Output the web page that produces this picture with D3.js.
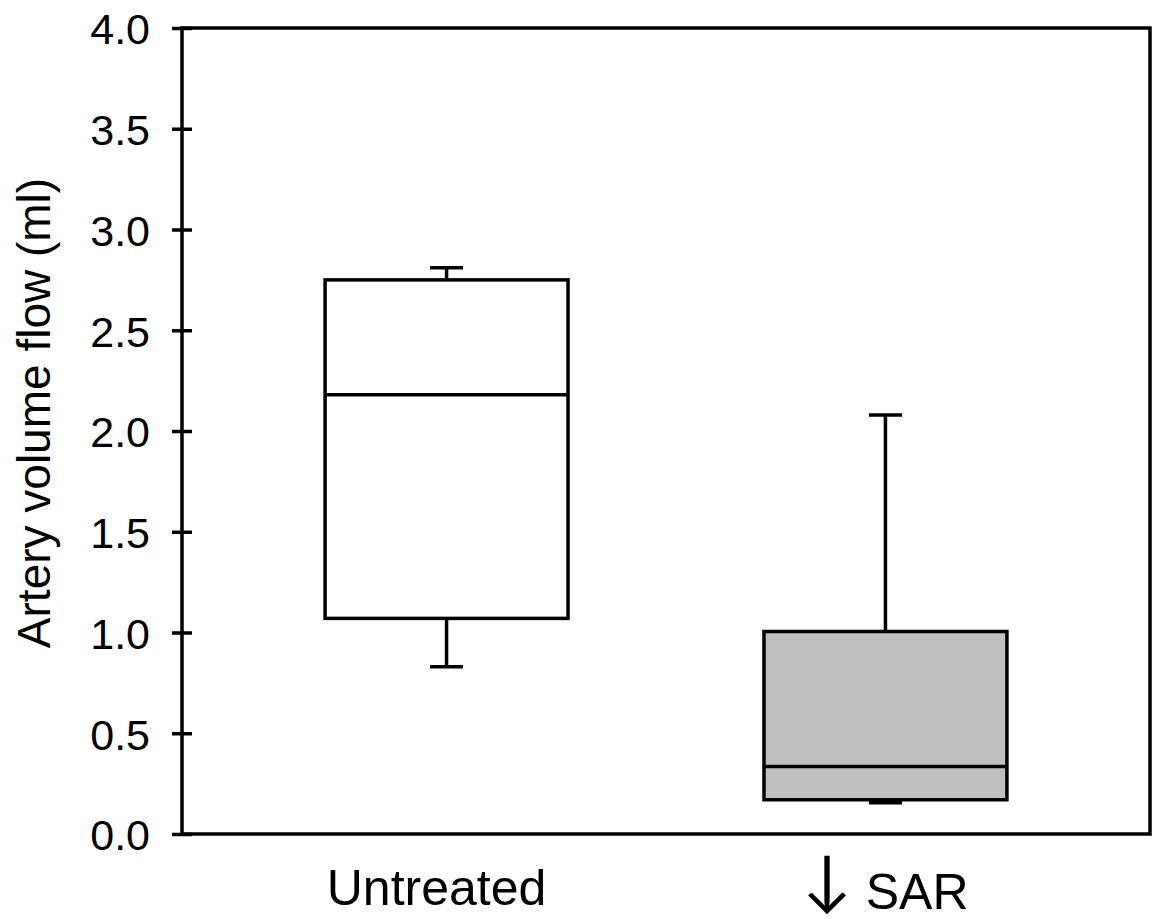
<!DOCTYPE html>
<html lang="en">
<head>
<meta charset="UTF-8">
<title>Artery volume flow box plot</title>
<script src="https://d3js.org/d3.v7.min.js"></script>
<style>
  body { margin: 0; background: #fff; }
  svg { display: block; font-family: 'Liberation Sans', Arial, sans-serif; }
</style>
</head>
<body>
<svg id="chart" width="1155" height="921"></svg>
<script>
// data
var categories = ["Untreated", "\u2193 SAR"];
var whiskerLow  = [0.83, 0.155];
var q1          = [1.07, 0.17];
var median      = [2.18, 0.335];
var q3          = [2.75, 1.005];
var whiskerHigh = [2.81, 2.08];
var yTicks = [0, 0.5, 1, 1.5, 2, 2.5, 3, 3.5, 4];

var boxFill = ["#ffffff", "#c0c0c0"];

var svg = d3.select("#chart");
var mLeft = 182, mRight = 1150, mTop = 28, mBottom = 834;
var lw = 3.5;

var y = d3.scaleLinear().domain([0, 4]).range([mBottom, mTop]);
var x = d3.scaleBand().domain(categories).range([mLeft, mRight])
  .paddingInner(0.4465).paddingOuter(0.326);

var boxes = categories.map(function(c, i) {
  return { cat: c, lo: whiskerLow[i], q1: q1[i], med: median[i], q3: q3[i], hi: whiskerHigh[i], fill: boxFill[i] };
});

// y axis, ticks cross the frame
var yAxis = d3.axisLeft(y).tickValues(yTicks).tickSize(10).tickPadding(22)
  .tickFormat(d3.format(".1f"));
var gy = svg.append("g").attr("transform", "translate(" + mLeft + ",0)").call(yAxis);
gy.select(".domain").remove();
gy.selectAll(".tick line").attr("x1", 10).attr("stroke", "#000").attr("stroke-width", lw);
gy.selectAll(".tick text").attr("font-size", 43).attr("dy", "0.37em")
  .attr("fill", "#000").attr("font-family", "'Liberation Sans', Arial, sans-serif");

// whiskers + caps
var capW = 33;
var g = svg.selectAll("g.box").data(boxes).enter().append("g").attr("class", "box");
g.each(function(d) {
  var el = d3.select(this);
  var cx = x(d.cat) + x.bandwidth() / 2;
  el.append("line").attr("x1", cx).attr("x2", cx).attr("y1", y(d.q3)).attr("y2", y(d.hi))
    .attr("stroke", "#000").attr("stroke-width", lw);
  el.append("line").attr("x1", cx - capW / 2).attr("x2", cx + capW / 2).attr("y1", y(d.hi)).attr("y2", y(d.hi))
    .attr("stroke", "#000").attr("stroke-width", lw);
  el.append("line").attr("x1", cx).attr("x2", cx).attr("y1", y(d.q1)).attr("y2", y(d.lo))
    .attr("stroke", "#000").attr("stroke-width", lw);
  el.append("line").attr("x1", cx - capW / 2).attr("x2", cx + capW / 2).attr("y1", y(d.lo)).attr("y2", y(d.lo))
    .attr("stroke", "#000").attr("stroke-width", lw);
  el.append("rect").attr("x", x(d.cat)).attr("width", x.bandwidth())
    .attr("y", y(d.q3)).attr("height", y(d.q1) - y(d.q3))
    .attr("fill", d.fill).attr("stroke", "#000").attr("stroke-width", lw);
  el.append("line").attr("x1", x(d.cat)).attr("x2", x(d.cat) + x.bandwidth())
    .attr("y1", y(d.med)).attr("y2", y(d.med))
    .attr("stroke", "#000").attr("stroke-width", lw);
});

// frame
svg.append("rect").attr("x", mLeft).attr("y", mTop).attr("width", mRight - mLeft).attr("height", mBottom - mTop)
  .attr("fill", "none").attr("stroke", "#000").attr("stroke-width", lw);

// category labels (arrow glyph from Lato, which has the open, tall arrow)
var catText = svg.selectAll("text.cat").data(categories).enter().append("text").attr("class", "cat")
  .attr("x", function(d) { return x(d) + x.bandwidth() / 2; })
  .attr("y", function(d, i) { return i === 0 ? 905 : 909; })
  .attr("text-anchor", "middle").attr("font-size", 50).attr("fill", "#000");
catText.each(function(d) {
  var t = d3.select(this);
  if (d.charAt(0) === "\u2193") {
    t.append("tspan").attr("font-family", "Lato").attr("font-size", 66).attr("dy", -6).text("\u2193");
    t.append("tspan").attr("dy", 6).text(d.slice(1));
  } else {
    t.text(d);
  }
});
catText.filter(function(d, i) { return i === 0; }).attr("dx", -10);

// y label
svg.append("text").attr("transform", "translate(50," + ((mTop + mBottom) / 2 - 18) + ") rotate(-90)")
  .attr("text-anchor", "middle").attr("font-size", 46).attr("fill", "#000")
  .text("Artery volume flow (ml)");
</script>
</body>
</html>
